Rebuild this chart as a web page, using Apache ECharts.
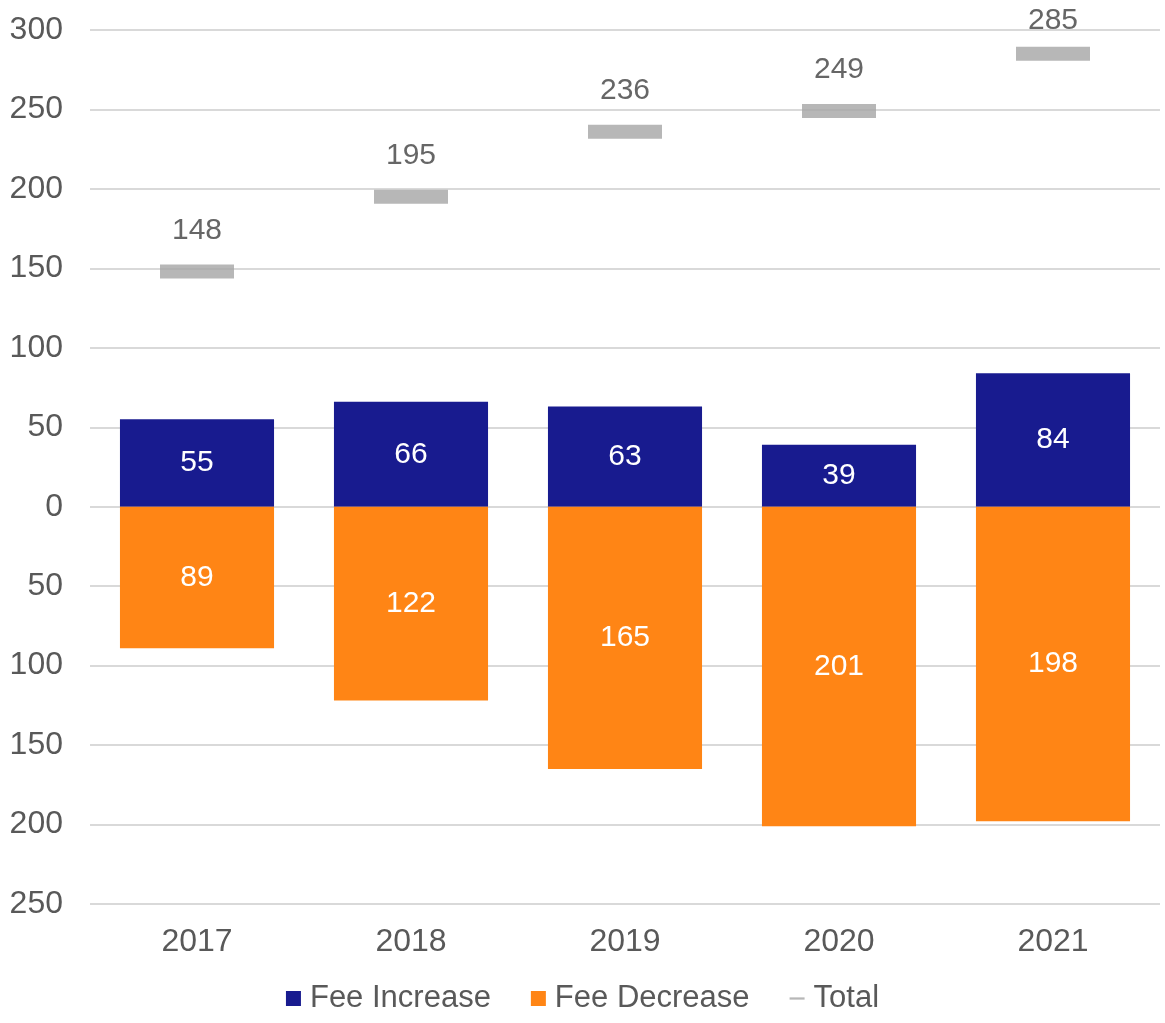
<!DOCTYPE html>
<html>
<head>
<meta charset="utf-8">
<script src="https://cdn.jsdelivr.net/npm/echarts@6/dist/echarts.min.js"></script>
<style>
  html, body { margin: 0; padding: 0; background: #fff; }
  #chart { width: 1165px; height: 1023px; }
</style>
</head>
<body>
<div id="chart"></div>
<script>
const years = ['2017', '2018', '2019', '2020', '2021']
const feeIncrease = [55, 66, 63, 39, 84]
const feeDecrease = [89, 122, 165, 201, 198]
const total = [148, 195, 236, 249, 285]

const chart = echarts.init(document.getElementById('chart'))
const font = 'Liberation Sans, Arial, sans-serif'

const options = {
  animation: false,
  textStyle: { fontFamily: font },
  grid: { left: 90, right: 5, top: 30, bottom: 119 },
  legend: {
    bottom: 4,
    left: 'center',
    itemWidth: 15,
    itemHeight: 15,
    itemGap: 40,
    textStyle: {
      fontSize: 31,
      color: '#595959',
      fontFamily: font,
      padding: [0, 0, 0, 4],
    },
    data: [
      { name: 'Fee Increase', icon: 'rect' },
      { name: 'Fee Decrease', icon: 'rect' },
      { name: 'Total', icon: 'path://M0,0H20V3H0Z' },
    ],
  },
  xAxis: {
    type: 'category',
    data: years,
    axisLine: { show: false, onZero: false },
    axisTick: { show: false },
    axisLabel: { fontSize: 32, color: '#595959', margin: 22 },
  },
  yAxis: {
    type: 'value',
    min: -250,
    max: 300,
    interval: 50,
    axisLabel: {
      fontSize: 32,
      color: '#595959',
      margin: 27,
      formatter: (v) => Math.abs(v),
    },
    splitLine: { lineStyle: { color: '#d9d9d9', width: 2 } },
  },
  series: [
    {
      name: 'Fee Increase',
      type: 'bar',
      stack: 'fee',
      barWidth: '72%',
      itemStyle: { color: '#181B8F' },
      label: { show: true, position: 'inside', color: '#fff', fontSize: 30 },
      data: feeIncrease,
    },
    {
      name: 'Fee Decrease',
      type: 'bar',
      stack: 'fee',
      barWidth: '72%',
      itemStyle: { color: '#FF8515' },
      label: {
        show: true,
        position: 'inside',
        color: '#fff',
        fontSize: 30,
        formatter: (p) => Math.abs(p.value),
      },
      data: feeDecrease.map((v) => -v),
    },
    {
      name: 'Total',
      type: 'scatter',
      symbol: 'rect',
      symbolSize: [74, 14],
      itemStyle: { color: '#A5A5A5' },
      label: {
        show: true,
        position: 'top',
        distance: 19,
        color: '#404040',
        fontSize: 30,
      },
      // last label sits closer to its marker, kept inside the plot like the original
      data: total.map((v, i) =>
        i === total.length - 1 ? { value: v, label: { distance: 11 } } : v
      ),
    },
  ],
}

chart.setOption(options)
</script>
</body>
</html>
